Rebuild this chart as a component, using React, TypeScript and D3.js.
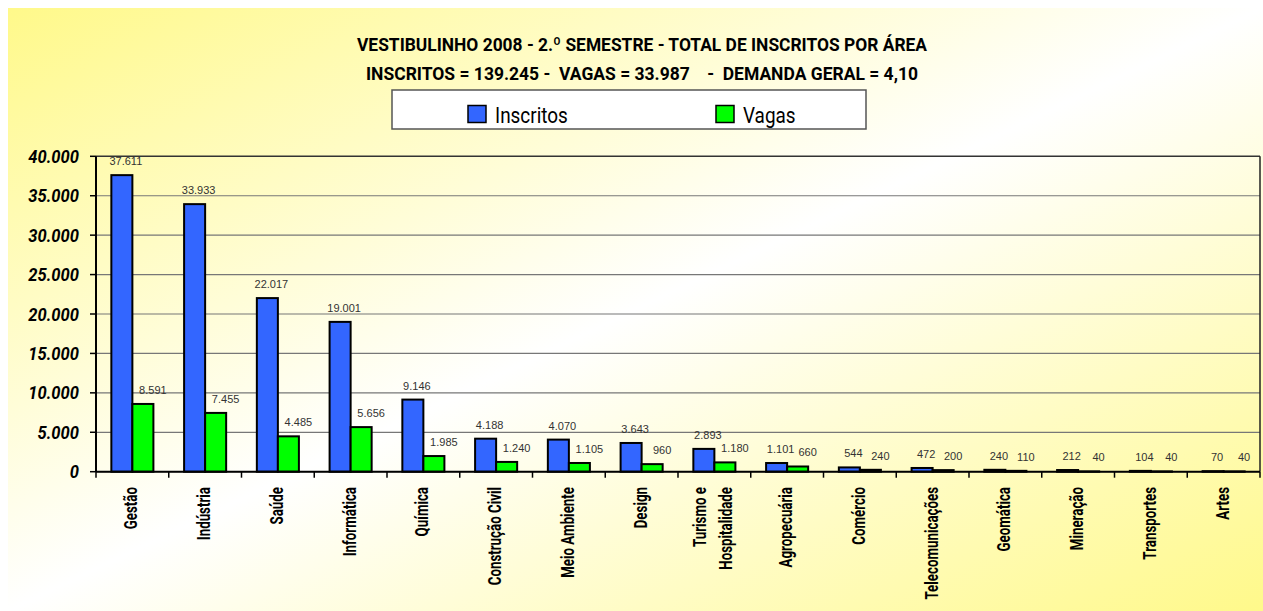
import React from "react";
import * as d3 from "d3";

const categories = [
  "Gestão", "Indústria", "Saúde", "Informática", "Química", "Construção Civil",
  "Meio Ambiente", "Design", "Turismo e\nHospitalidade", "Agropecuária", "Comércio",
  "Telecomunicações", "Geomática", "Mineração", "Transportes", "Artes",
];
const inscritos = [37611, 33933, 22017, 19001, 9146, 4188, 4070, 3643, 2893, 1101, 544, 472, 240, 212, 104, 70];
const vagas = [8591, 7455, 4485, 5656, 1985, 1240, 1105, 960, 1180, 660, 240, 200, 110, 40, 40, 40];
const seriesNames = ["Inscritos", "Vagas"];
const seriesColors = ["#3366FF", "#00FF00"];
const yTicks = [0, 5000, 10000, 15000, 20000, 25000, 30000, 35000, 40000];
const titleLine1 = "VESTIBULINHO 2008 - 2.º SEMESTRE - TOTAL DE INSCRITOS POR ÁREA";
const titleLine2 = "INSCRITOS = 139.245 -  VAGAS = 33.987    -  DEMANDA GERAL = 4,10";

const W = 1263;
const H = 611;
const FONT = "Roboto, 'Open Sans', sans-serif";

const fmt = (v: number) => d3.format(",")(v).replace(/,/g, ".");

export default function App() {
  const plot = { left: 96, right: 1260, top: 156.3, bottom: 471.7 };
  const x0 = d3.scaleBand<string>().domain(categories).range([plot.left, plot.right]).padding(0);
  const x1 = d3.scaleBand<string>().domain(seriesNames).range([0, x0.bandwidth()]).paddingInner(0).paddingOuter(0.73);
  const y = d3.scaleLinear().domain([0, 40000]).range([plot.bottom, plot.top]);
  const series = [inscritos, vagas];

  return (
    <div>
      <style>{`body{margin:0;overflow:hidden}`}</style>
      <svg width={W} height={H} style={{ display: "block" }}>
        <defs>
          <linearGradient id="bg" x1="0" y1="0" x2="1" y2="1">
            <stop offset="0" stopColor="#FFF98A" />
            <stop offset="0.5" stopColor="#FFFFFF" />
            <stop offset="1" stopColor="#FFF98A" />
          </linearGradient>
        </defs>
        <rect x={8} y={8} width={W - 8} height={H - 8} fill="url(#bg)" />

        {/* title */}
        <text x={642} y={51} textAnchor="middle" fontFamily={FONT} fontWeight="bold" fontSize={19}
          textLength={570} lengthAdjust="spacingAndGlyphs" fill="#000">{titleLine1}</text>
        <text x={642} y={80} textAnchor="middle" fontFamily={FONT} fontWeight="bold" fontSize={19}
          textLength={552} lengthAdjust="spacingAndGlyphs" fill="#000" style={{ whiteSpace: "pre" }}>{titleLine2}</text>

        {/* legend */}
        <rect x={392} y={90} width={474} height={39} fill="#FFFFFF" stroke="#555" strokeWidth={1.5} />
        {seriesNames.map((s, i) => {
          const lx = i === 0 ? 468 : 716;
          return (
            <g key={s}>
              <rect x={lx} y={105.5} width={18} height={17} fill={seriesColors[i]} stroke="#000" strokeWidth={1.5} />
              <text transform={`translate(${lx + 27},123) scale(0.86,1)`} fontFamily={FONT} fontSize={22} fill="#000">{s}</text>
            </g>
          );
        })}

        {/* gridlines */}
        {yTicks.map((t) => (
          <line key={t} x1={plot.left} x2={plot.right} y1={y(t)} y2={y(t)}
            stroke={t === 40000 ? "#333" : "#777"} strokeWidth={t === 40000 ? 1.5 : 1.2} />
        ))}
        <line x1={plot.right} x2={plot.right} y1={plot.top} y2={plot.bottom} stroke="#222" strokeWidth={1.5} />

        {/* bars */}
        {categories.map((c, ci) => (
          <g key={c}>
            {series.map((vals, si) => {
              const bx = (x0(c) as number) + (x1(seriesNames[si]) as number);
              const by = y(vals[ci]);
              return (
                <rect key={si} x={bx} y={by} width={x1.bandwidth()} height={plot.bottom - by}
                  fill={seriesColors[si]} stroke="#000" strokeWidth={2} />
              );
            })}
          </g>
        ))}

        {/* value labels */}
        {categories.map((c, ci) => (
          <g key={c + "lbl"}>
            {series.map((vals, si) => {
              const bx = (x0(c) as number) + (x1(seriesNames[si]) as number) + x1.bandwidth() / 2;
              const by = y(vals[ci]);
              return (
                <text key={si} x={bx + (si === 0 ? 4 : 10)} y={by - 10} textAnchor="middle"
                  fontFamily="'Liberation Sans', Arial, sans-serif" fontSize={11} fill="#333">{fmt(vals[ci])}</text>
              );
            })}
          </g>
        ))}

        {/* axes */}
        <line x1={plot.left} x2={plot.left} y1={plot.top} y2={plot.bottom} stroke="#000" strokeWidth={2} />
        <line x1={plot.left} x2={plot.right} y1={plot.bottom} y2={plot.bottom} stroke="#000" strokeWidth={2} />
        {yTicks.map((t) => (
          <g key={"yt" + t}>
            <line x1={plot.left - 6} x2={plot.left} y1={y(t)} y2={y(t)} stroke="#000" strokeWidth={1.5} />
            <text transform={`translate(79,${y(t) + 6.5}) scale(0.92,1)`} textAnchor="end" fontFamily={FONT}
              fontWeight="bold" fontStyle="italic" fontSize={18} fill="#000">{fmt(t)}</text>
          </g>
        ))}
        {categories.map((c) => (
          <line key={"xt" + c} x1={x0(c) as number} x2={x0(c) as number} y1={plot.bottom} y2={plot.bottom + 6}
            stroke="#000" strokeWidth={1.5} />
        ))}
        <line x1={plot.right} x2={plot.right} y1={plot.bottom} y2={plot.bottom + 6} stroke="#000" strokeWidth={1.5} />

        {/* category labels */}
        {categories.map((c) => {
          const lines = c.split("\n");
          const cx = (x0(c) as number) + x0.bandwidth() / 2;
          return (
            <g key={"cl" + c}>
              {lines.map((ln, li) => {
                const lx = cx + (li - (lines.length - 1) / 2) * 26 + 5;
                return (
                  <text key={li} transform={`translate(${lx},487) rotate(-90) scale(0.74,1)`} textAnchor="end"
                    fontFamily={FONT} fontWeight="bold" fontSize={18} fill="#000">{ln}</text>
                );
              })}
            </g>
          );
        })}
      </svg>
    </div>
  );
}
